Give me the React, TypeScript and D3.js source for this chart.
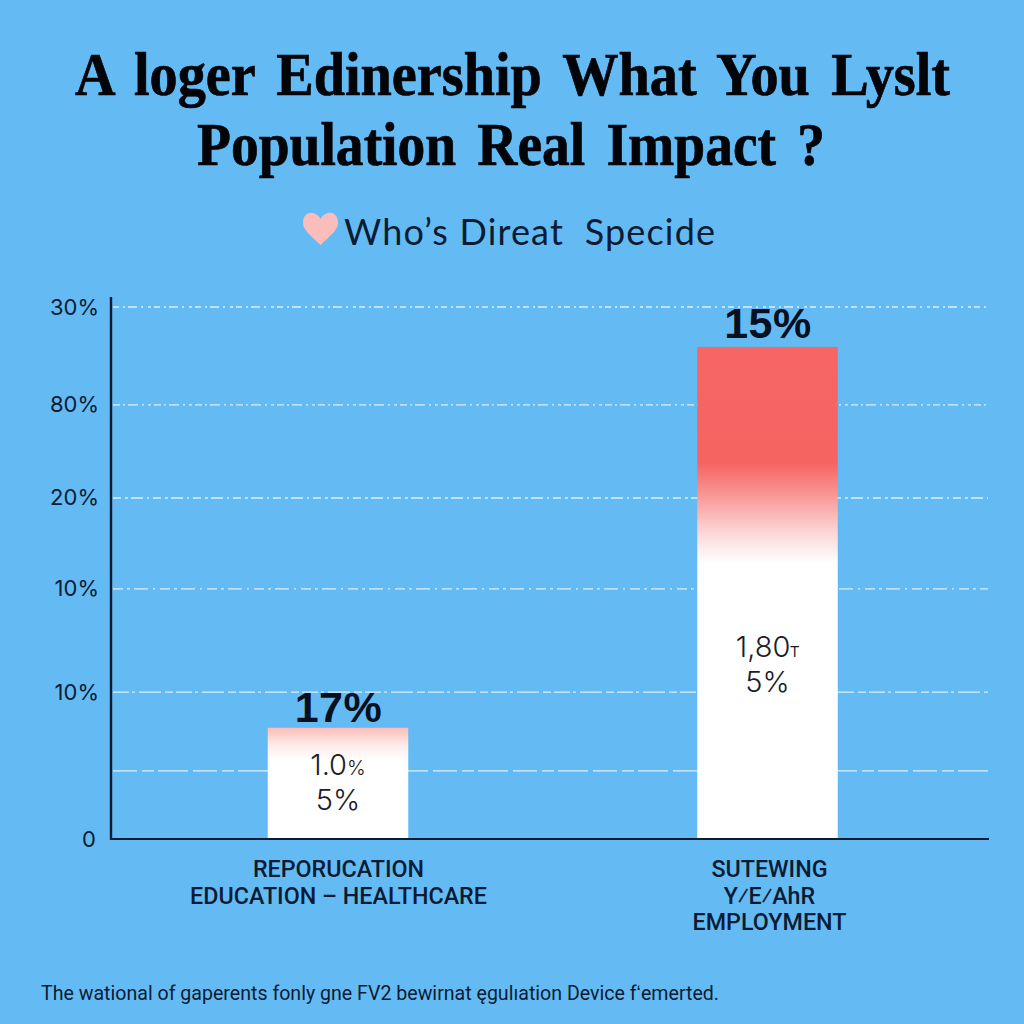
import React from "react";
import * as d3 from "d3";

const titleLines = ["A loger Edinership What You Lyslt", "Population Real Impact ?"];
const subtitle = "Who’s Direat  Specide";
const footnote = "The wational of gaperents fonly gne FV2 bewirnat ęgulıation Device fʻemerted.";

// Axis readings: the printed labels are not monotonic, so marks use a 0-100 axis position
const tickLabels = ["0", "", "10%", "10%", "20%", "80%", "30%"];
const tickValues = [0, 12.8, 27.6, 47, 64.1, 81.6, 100];
const categories = ["a", "b"];
const categoryLines = [
  ["REPORUCATION", "EDUCATION – HEALTHCARE"],
  ["SUTEWING", "Y⁄E⁄AhR", "EMPLOYMENT"],
];
const barValues = [20.9, 92.5];
const valueLabels = ["17%", "15%"];
const innerLines = [
  [["1.0", "%"], ["5%", ""]],
  [["1,80", "т"], ["5%", ""]],
];

const W = 1024;
const H = 1024;
const BG = "#64BBF4";
const INK = "#0A1B33";
const gridDashes = [
  "24 5 12 4 30 5",
  "16 3 3 4 22 4 8 3",
  "10 4 3 4 14 5 2 5",
  "8 4 3 3 12 4 2 4",
  "7 3 2 3 10 4 2 4 3 3",
  "6 4 2 3 9 4 2 5 3 3",
];

const y = d3.scaleLinear().domain([0, 100]).range([839, 307]);
const x = d3.scalePoint<string>().domain(categories).range([338, 767.5]);
const BAR_W = 140.5;
const labelGap = [6, 9];
const innerBase = [775, 657];
const catCenter = [338.5, 769.5];

export default function App() {
  return (
    <svg
      width={W}
      height={H}
      viewBox={`0 0 ${W} ${H}`}
      style={{ position: "absolute", left: 0, top: 0, display: "block" }}
    >
      <defs>
        <linearGradient id="g0" x1="0" y1="0" x2="0" y2="1">
          <stop offset="0" stopColor="#FBBDB9" />
          <stop offset="0.16" stopColor="#FEEDEB" />
          <stop offset="0.3" stopColor="#FFFFFF" />
          <stop offset="1" stopColor="#FFFFFF" />
        </linearGradient>
        <linearGradient id="g1" x1="0" y1="0" x2="0" y2="1">
          <stop offset="0" stopColor="#F66664" />
          <stop offset="0.235" stopColor="#F56461" />
          <stop offset="0.3" stopColor="#F89694" />
          <stop offset="0.38" stopColor="#FBD9D7" />
          <stop offset="0.44" stopColor="#FFFFFF" />
          <stop offset="1" stopColor="#FFFFFF" />
        </linearGradient>
      </defs>
      <rect width={W} height={H} fill={BG} />

      <g
        fontFamily="'Liberation Serif', serif"
        fontWeight="700"
        fill="#030408"
        stroke="#030408"
        strokeWidth={0.7}
        textAnchor="middle"
        wordSpacing={8}
      >
        <text x={512.5} y={95} fontSize={61} textLength={875} lengthAdjust="spacingAndGlyphs">{titleLines[0]}</text>
        <text x={511} y={165} fontSize={61} textLength={628} lengthAdjust="spacingAndGlyphs">{titleLines[1]}</text>
      </g>

      <path
        d="M320.5 245 C312 237 303 230 303 223 C303 210 316 210 320.5 219 C325 210 338 210 338 223 C338 230 329 237 320.5 245 Z"
        fill="#FBBDBB"
      />
      <text x={344} y={245} fontFamily="Lato, sans-serif" fontSize={36} fill={INK} textLength={371} xmlSpace="preserve">
        {subtitle}
      </text>

      {tickValues.slice(1).map((t, i) => (
        <line
          key={t}
          x1={113}
          x2={988}
          y1={y(t)}
          y2={y(t)}
          stroke="#E6F5FF"
          strokeOpacity={0.9}
          strokeWidth={1.3}
          strokeDasharray={gridDashes[i]}
        />
      ))}

      <g fontFamily="Inter, sans-serif" fontSize={22} fill={INK} textAnchor="end">
        {tickLabels.map((l, i) => (
          <text key={i} x={l === "0" ? 96 : 99} y={y(tickValues[i]) + 7.5}>{l}</text>
        ))}
      </g>

      {categories.map((c, i) => (
        <rect key={c} x={x(c)! - BAR_W / 2} y={y(barValues[i])} width={BAR_W} height={y(0) - y(barValues[i])} fill={`url(#g${i})`} />
      ))}

      <line x1={111} x2={111} y1={297} y2={840} stroke={INK} strokeWidth={2.4} />
      <line x1={110} x2={989} y1={839} y2={839} stroke={INK} strokeWidth={2.2} />

      {categories.map((c, i) => {
        const cx = x(c)!;
        return (
          <g key={c} textAnchor="middle">
            <text
              x={cx + 0.5}
              y={y(barValues[i]) - labelGap[i]}
              fontFamily="'Liberation Sans', sans-serif"
              fontWeight="700"
              fontSize={43}
              letterSpacing={0.5}
              fill="#07101E"
            >
              {valueLabels[i]}
            </text>
            {innerLines[i].map(([main, small], k) => (
              <text
                key={k}
                x={cx}
                y={innerBase[i] + k * 34.5}
                fontFamily="Inter, sans-serif"
                fontWeight="300"
                fontSize={29}
                fill="#1A2028"
              >
                {main}
                {small && <tspan fontSize={20}>{small}</tspan>}
              </text>
            ))}
            {categoryLines[i].map((t, k) => (
              <text
                key={k}
                x={catCenter[i]}
                y={877 + k * 26.5}
                fontFamily="Roboto, sans-serif"
                fontWeight="500"
                fontSize={23.3}
                fill={INK}
              >
                {t}
              </text>
            ))}
          </g>
        );
      })}

      <text x={41} y={1000} fontFamily="Roboto, sans-serif" fontSize={20.5} fill={INK} textLength={678} lengthAdjust="spacingAndGlyphs">
        {footnote}
      </text>
    </svg>
  );
}
